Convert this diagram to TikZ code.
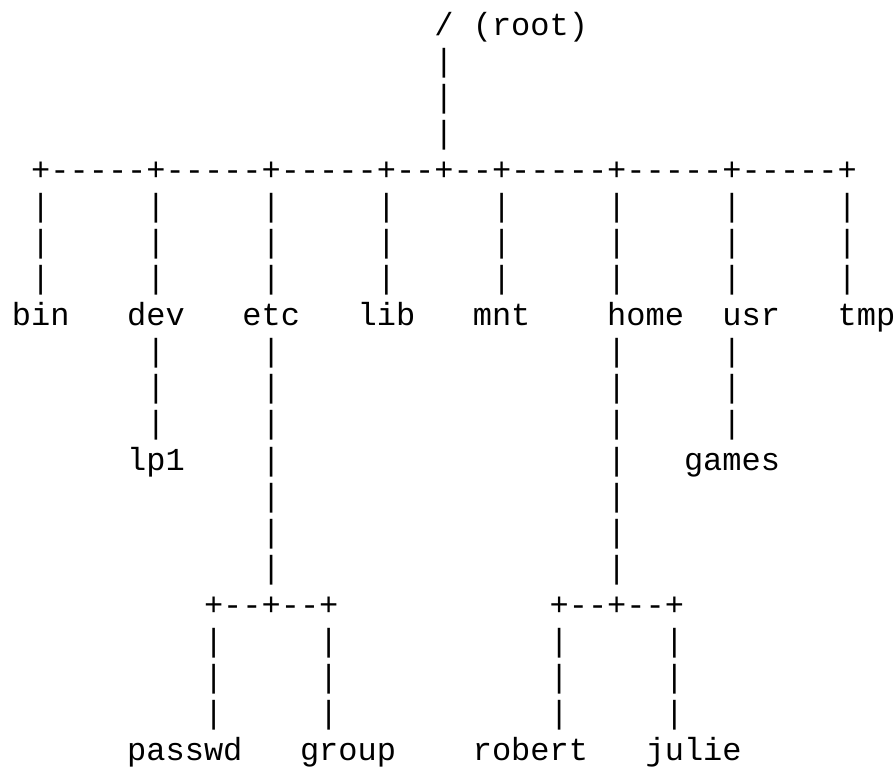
\documentclass[tikz,border=0pt]{standalone}
\usepackage{fontspec}
\setmonofont{Liberation Mono}

% Character-cell grid: 32pt Liberation Mono, 0.6em advance, 1.1328em leading
\newcommand\cellx[1]{12+19.2*(#1)}
\newcommand\celly[1]{35+36.25*(#1)}

\tikzset{
  glyph/.style={anchor=base west, inner sep=0pt, outer sep=0pt,
    font=\ttfamily\fontsize{32}{36.25}\selectfont, text=black},
}

% one run of characters placed at (column, row)
\newcommand\tok[4]{\node[glyph] (#1) at ({\cellx{#2}},{\celly{#3}}) {#4};}
% a vertical run of bar characters in one column, rows #3..#4
\newcommand\barrun[4]{%
  \foreach \r in {#3,...,#4}{\node[glyph] (#1-\r) at ({\cellx{#2}},{\celly{\r}}) {|};}}

\begin{document}
\begin{tikzpicture}[x=1pt,y=-1pt]
  \useasboundingbox (0,0) rectangle (896,769);

  % root
  \tok{rootslash}{22}{0}{/}
  \tok{rootname}{24}{0}{(root)}
  \barrun{rootbar}{22}{1}{3}

  % top-level branch line
  \tok{topline}{1}{4}{+-----+-----+-----+--+--+-----+-----+-----+}
  \barrun{binbar}{1}{5}{7}
  \barrun{devbar}{7}{5}{7}
  \barrun{etcbar}{13}{5}{7}
  \barrun{libbar}{19}{5}{7}
  \barrun{mntbar}{25}{5}{7}
  \barrun{homebar}{31}{5}{7}
  \barrun{usrbar}{37}{5}{7}
  \barrun{tmpbar}{43}{5}{7}

  % first-level directories
  \tok{bin}{0}{8}{bin}
  \tok{dev}{6}{8}{dev}
  \tok{etc}{12}{8}{etc}
  \tok{lib}{18}{8}{lib}
  \tok{mnt}{24}{8}{mnt}
  \tok{home}{31}{8}{home}
  \tok{usr}{37}{8}{usr}
  \tok{tmp}{43}{8}{tmp}

  % dev -> lp1, usr -> games
  \barrun{lpbar}{7}{9}{11}
  \tok{lp1}{6}{12}{lp1}
  \barrun{gamesbar}{37}{9}{11}
  \tok{games}{35}{12}{games}

  % etc and home descend to their own branch lines
  \barrun{etcdown}{13}{9}{15}
  \barrun{homedown}{31}{9}{15}
  \tok{etcline}{10}{16}{+--+--+}
  \tok{homeline}{28}{16}{+--+--+}

  \barrun{passwdbar}{10}{17}{19}
  \barrun{groupbar}{16}{17}{19}
  \barrun{robertbar}{28}{17}{19}
  \barrun{juliebar}{34}{17}{19}

  % second-level entries
  \tok{passwd}{6}{20}{passwd}
  \tok{group}{15}{20}{group}
  \tok{robert}{24}{20}{robert}
  \tok{julie}{33}{20}{julie}
\end{tikzpicture}
\end{document}
